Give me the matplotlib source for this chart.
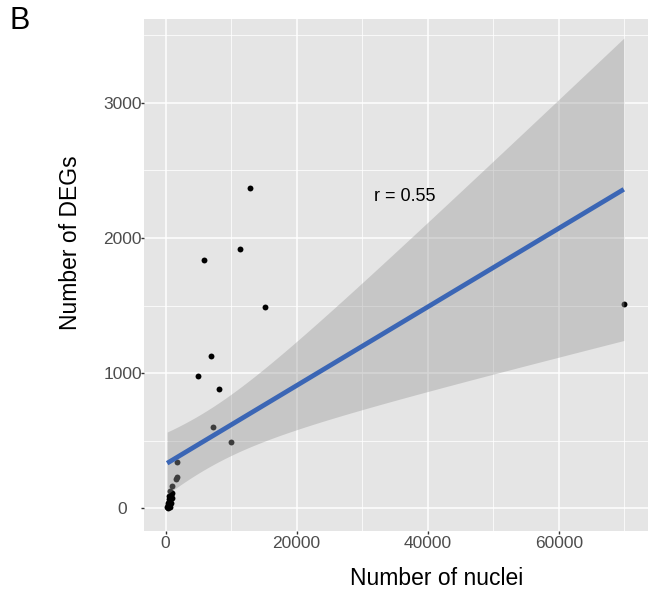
import numpy as np
import matplotlib
matplotlib.use("Agg")
import matplotlib.pyplot as plt
from matplotlib.ticker import MultipleLocator

plt.rcParams['font.family'] = ['Liberation Sans', 'DejaVu Sans']

# nuclei count vs number of DEGs per cell type
nuclei = [12890, 5830, 11410, 15170, 6940, 4960, 8110, 7290, 10030, 69900,
          1700, 1800, 1550, 945, 690,
          1050, 820, 600, 950, 480, 730, 560, 390, 870, 660, 320, 520, 420, 250, 610, 350]
degs = [2373, 1837, 1921, 1487, 1128, 980, 884, 602, 486, 1509,
        338, 227, 215, 163, 128,
        108, 95, 88, 74, 66, 58, 47, 41, 36, 29, 22, 17, 11, 8, 5, 2]
r_label = "r = 0.55"
x_ticks = [0, 20000, 40000, 60000]
y_ticks = [0, 1000, 2000, 3000]
x_lim = (-3280, 73590)
y_lim = (-170, 3622)

x = np.array(nuclei, dtype=float)
y = np.array(degs, dtype=float)

# ordinary least squares fit with 95% confidence band (like geom_smooth(method="lm"))
n = len(x)
xm, ym = x.mean(), y.mean()
sxx = np.sum((x - xm) ** 2)
slope = np.sum((x - xm) * (y - ym)) / sxx
intercept = ym - slope * xm
resid = y - (intercept + slope * x)
s = np.sqrt(np.sum(resid ** 2) / (n - 2))
t_crit = 2.045  # t(0.975, df=29)
xs = np.linspace(x.min(), x.max(), 80)
fit = intercept + slope * xs
se = s * np.sqrt(1 / n + (xs - xm) ** 2 / sxx)
r = np.corrcoef(x, y)[0, 1]
print(f"slope={slope:.5f} intercept={intercept:.1f} r={r:.3f}")

fig = plt.figure(figsize=(6.48, 5.94), dpi=100)
ax = fig.add_axes([144 / 648, 1 - 531 / 594, 504 / 648, 512 / 594])
ax.set_facecolor('#E5E5E5')

ax.scatter(x, y, s=18, color='black', linewidths=0, zorder=2)
ax.fill_between(xs, fit - t_crit * se, fit + t_crit * se, color='#999999',
                alpha=0.4, linewidth=0, zorder=3)
ax.plot(xs, fit, color='#3B66B5', linewidth=3.4, zorder=4, solid_capstyle='butt')
ax.text(36450, 2311, r_label, ha='center', va='center', fontsize=13, color='black', zorder=5)

ax.set_xlim(*x_lim)
ax.set_ylim(*y_lim)
ax.set_xticks(x_ticks)
ax.set_yticks(y_ticks)
ax.xaxis.set_minor_locator(MultipleLocator(10000))
ax.yaxis.set_minor_locator(MultipleLocator(500))
ax.grid(which='major', color='white', linewidth=1.1)
ax.grid(which='minor', color='white', linewidth=0.55)
ax.set_axisbelow(True)
for sp in ax.spines.values():
    sp.set_visible(False)

ax.tick_params(which='major', length=2, width=1, color='#333333',
               labelsize=12.5, labelcolor='#4D4D4D')
ax.tick_params(axis='x', pad=1.5)
ax.tick_params(axis='y', pad=13.5)
ax.tick_params(which='minor', length=0)
for lab in ax.get_yticklabels():
    lab.set_horizontalalignment('center')

ax.set_xlabel("Number of nuclei", fontsize=16.5, color='black')
ax.set_ylabel("Number of DEGs", fontsize=16.5, color='black')
ax.xaxis.set_label_coords((436.5 - 144) / 504, (531 - 567) / 512)
ax.yaxis.set_label_coords((82 - 144) / 504, (531 - 242.5) / 512)

fig.text(10 / 648, 1 - 29 / 594, "B", fontsize=22, va='baseline', ha='left')

fig.savefig("out.png", dpi=100)
